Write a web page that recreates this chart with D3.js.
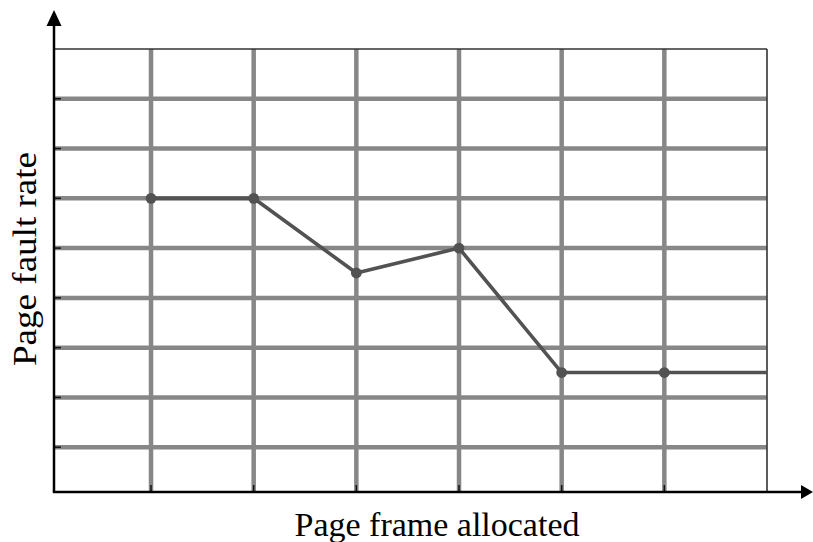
<!DOCTYPE html>
<html>
<head>
<meta charset="utf-8">
<script src="https://cdn.jsdelivr.net/npm/d3@7"></script>
<style>
html,body{margin:0;padding:0;background:#fff;}
svg{display:block;}
</style>
</head>
<body>
<svg id="chart" width="813" height="542"></svg>
<script>
// Data
const frames = [1, 2, 3, 4, 5, 6, 7];
const faultRate = [6, 6, 4.5, 5, 2.5, 2.5, 2.5];
const showMarker = [true, true, true, true, true, true, false];
const xGrid = [1, 2, 3, 4, 5, 6];
const yGrid = [1, 2, 3, 4, 5, 6, 7, 8];
const xLabel = "Page frame allocated";
const yLabel = "Page fault rate";

const svg = d3.select("#chart");
const x = d3.scaleLinear().domain([0.055, 7]).range([54, 767]);
const y = d3.scaleLinear().domain([0.1, 9]).range([492, 49]);

const grid = svg.append("g");
grid.selectAll("line.h").data(yGrid).enter().append("line")
  .attr("x1", x(0.055)).attr("x2", x(7))
  .attr("y1", d => y(d)).attr("y2", d => y(d))
  .attr("stroke", "#878787").attr("stroke-width", 4.5);
grid.selectAll("line.v").data(xGrid).enter().append("line")
  .attr("x1", d => x(d)).attr("x2", d => x(d))
  .attr("y1", y(9)).attr("y2", y(0.1))
  .attr("stroke", "#878787").attr("stroke-width", 4.5);
svg.append("line").attr("x1", x(0.055)).attr("x2", x(7)).attr("y1", y(9)).attr("y2", y(9))
  .attr("stroke", "#333").attr("stroke-width", 1.6);
svg.append("line").attr("x1", x(7)).attr("x2", x(7)).attr("y1", y(9)).attr("y2", y(0.1))
  .attr("stroke", "#333").attr("stroke-width", 1.6);

svg.selectAll("line.ty").data(yGrid).enter().append("line")
  .attr("x1", x(0.055)).attr("x2", x(0.055) + 7)
  .attr("y1", d => y(d)).attr("y2", d => y(d))
  .attr("stroke", "#111").attr("stroke-width", 1.5);
svg.selectAll("line.tx").data(xGrid).enter().append("line")
  .attr("x1", d => x(d)).attr("x2", d => x(d))
  .attr("y1", y(0.1)).attr("y2", y(0.1) - 7)
  .attr("stroke", "#111").attr("stroke-width", 1.5);

svg.append("line").attr("x1", x(0.055)).attr("x2", x(0.055)).attr("y1", y(0.1)).attr("y2", 24)
  .attr("stroke", "#000").attr("stroke-width", 2.5);
svg.append("path").attr("d", `M${x(0.055)},10 L${x(0.055) - 7.5},26 L${x(0.055) + 7.5},26 Z`).attr("fill", "#000");
svg.append("line").attr("x1", x(0.055) - 1.2).attr("x2", 803).attr("y1", y(0.1)).attr("y2", y(0.1))
  .attr("stroke", "#000").attr("stroke-width", 2.5);
svg.append("path").attr("d", `M813,${y(0.1)} L801,${y(0.1) - 7} L801,${y(0.1) + 7} Z`).attr("fill", "#000");

const line = d3.line().x((d, i) => x(frames[i])).y(d => y(d));
svg.append("path").datum(faultRate).attr("d", line)
  .attr("fill", "none").attr("stroke", "#525252").attr("stroke-width", 3.6)
  .attr("stroke-linejoin", "round");
svg.selectAll("circle").data(faultRate.map((v, i) => ({v, i})).filter(d => showMarker[d.i]))
  .enter().append("circle")
  .attr("cx", d => x(frames[d.i])).attr("cy", d => y(d.v)).attr("r", 5.4)
  .attr("fill", "#525252");

svg.append("text").attr("x", 437).attr("y", 536).attr("text-anchor", "middle")
  .attr("font-family", "'Liberation Serif', 'Times New Roman', serif").attr("font-size", 34)
  .attr("textLength", 285).attr("lengthAdjust", "spacingAndGlyphs")
  .attr("fill", "#000").text(xLabel);
svg.append("text").attr("transform", "translate(36,259) rotate(-90)").attr("text-anchor", "middle")
  .attr("font-family", "'Liberation Serif', 'Times New Roman', serif").attr("font-size", 33)
  .attr("textLength", 214).attr("lengthAdjust", "spacingAndGlyphs")
  .attr("fill", "#000").text(yLabel);
</script>
</body>
</html>
